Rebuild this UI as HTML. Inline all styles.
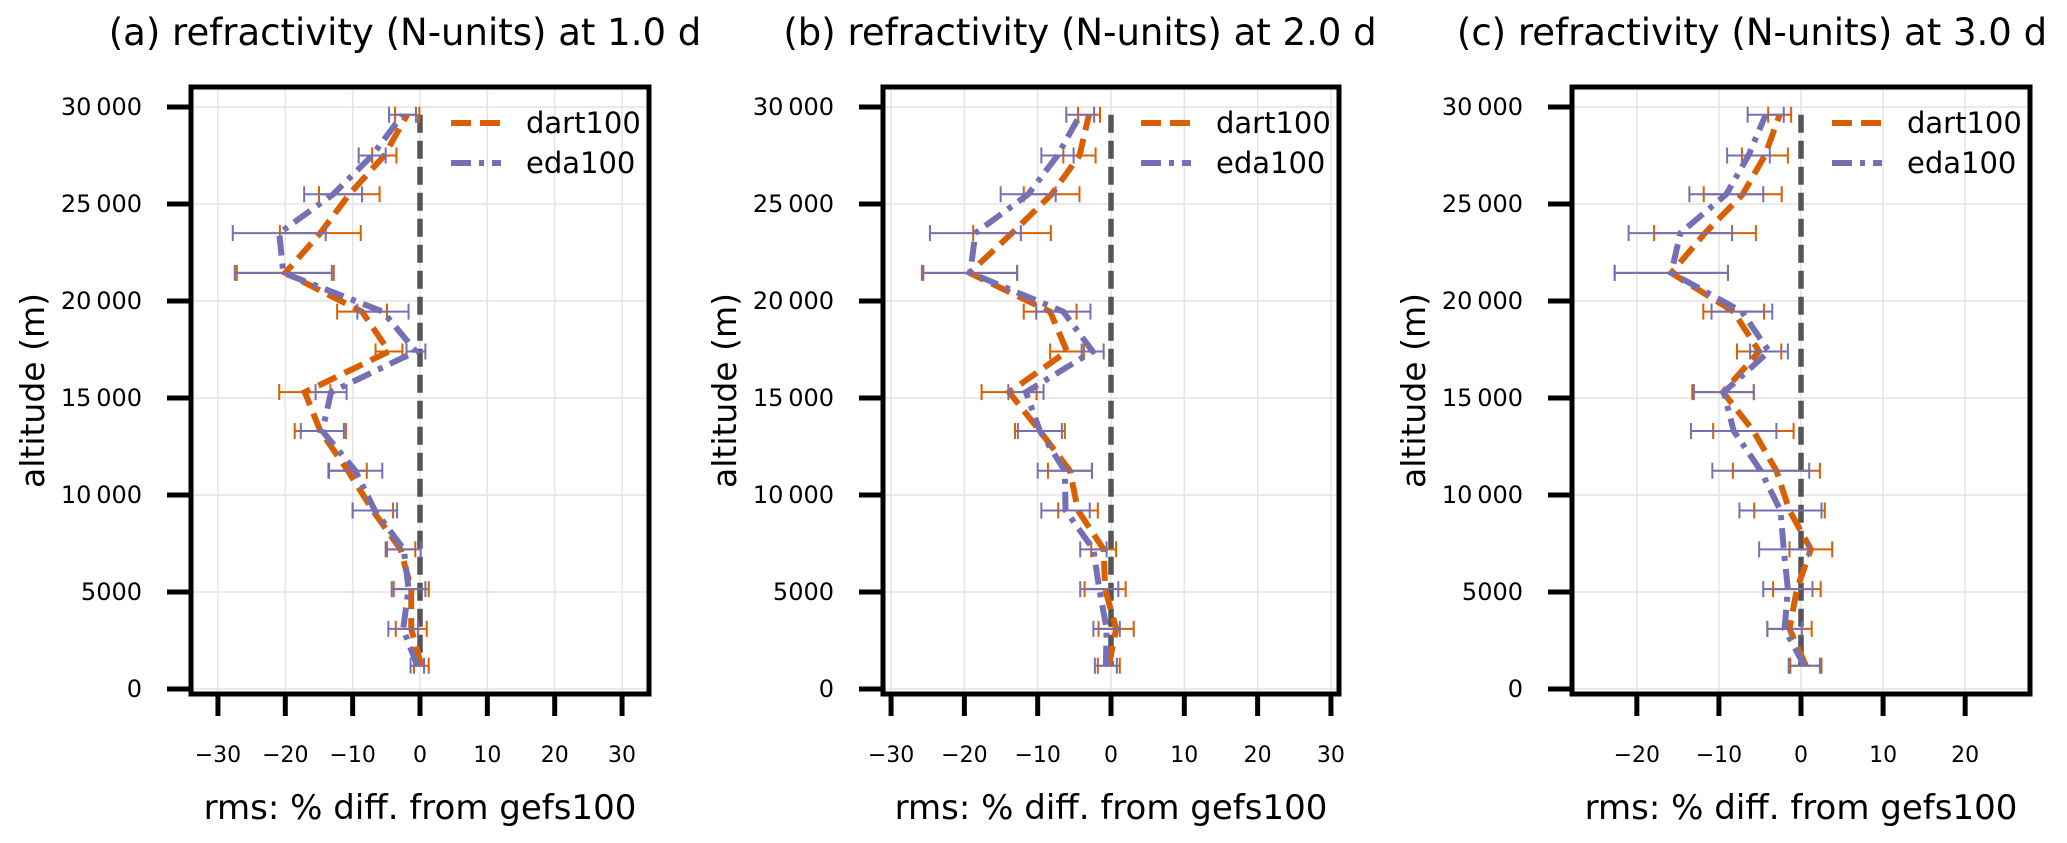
<!DOCTYPE html>
<html><head><meta charset="utf-8"><style>
html,body{margin:0;padding:0;background:#fff;}
svg{display:block;font-family:"DejaVu Sans","Liberation Sans",sans-serif;}
</style></head><body>
<svg id="fig" width="2067" height="843" viewBox="0 0 2067 843" xmlns="http://www.w3.org/2000/svg"></svg>
<script>
const levels = [1200,3100,5150,7200,9200,11250,13300,15300,17400,19450,21450,23500,25500,27500,29600];
const panelTitles = ["(a) refractivity (N-units) at 1.0 d","(b) refractivity (N-units) at 2.0 d","(c) refractivity (N-units) at 3.0 d"];
const seriesNames = ["dart100","eda100"];
const dartA = [0.2,-1.3,-1.3,-2.9,-7.0,-10.7,-14.8,-17.1,-4.6,-8.6,-20.0,-14.8,-10.5,-5.3,-1.9];
const dartAErr = [1.1,2.3,2.6,2.2,3.0,2.8,3.8,3.8,2.0,3.7,7.2,6.0,4.5,1.8,1.8];
const edaA = [-0.4,-2.5,-1.7,-2.4,-6.7,-9.6,-14.5,-13.2,-0.6,-5.5,-20.3,-20.9,-12.9,-7.1,-2.6];
const edaAErr = [1.0,2.2,2.5,2.5,3.3,4.0,3.2,2.3,1.4,3.8,7.2,6.9,4.3,2.0,2.0];
const dartB = [-0.3,0.7,-0.8,-1.0,-4.5,-5.6,-9.7,-13.9,-6.0,-8.3,-19.3,-13.5,-8.1,-4.3,-3.0];
const dartBErr = [1.5,2.4,2.8,1.7,2.7,3.0,3.4,3.75,2.3,3.6,6.5,5.3,3.8,2.2,1.5];
const edaB = [-0.7,-0.6,-1.6,-2.4,-6.2,-6.3,-9.7,-11.6,-2.5,-6.5,-19.2,-18.5,-11.3,-7.3,-4.2];
const edaBErr = [1.5,1.8,2.6,1.8,3.3,3.7,3.0,2.4,1.5,3.7,6.4,6.2,3.75,2.2,1.9];
const dartC = [0.6,-1.4,-0.5,1.2,-1.4,-3.0,-5.8,-9.5,-5.1,-8.2,-15.8,-11.7,-7.1,-4.4,-2.6];
const dartCErr = [1.9,2.7,2.9,2.6,4.3,5.3,4.9,3.75,2.7,3.7,6.9,6.2,4.75,2.8,1.4];
const edaC = [0.4,-2.0,-1.6,-2.1,-2.5,-4.9,-8.2,-9.4,-3.9,-7.2,-15.8,-14.7,-9.1,-6.4,-4.3];
const edaCErr = [1.9,2.1,3.0,3.0,5.0,5.9,5.2,3.65,2.3,3.7,6.9,6.3,4.5,2.6,2.2];
const xTicksAB = [-30,-20,-10,0,10,20,30];
const xTicksC = [-20,-10,0,10,20];
const yTicks = [0,5000,10000,15000,20000,25000,30000];
const yTickLabels = ["0","5000","10\u2009000","15\u2009000","20\u2009000","25\u2009000","30\u2009000"];

const NS="http://www.w3.org/2000/svg";
const svg=document.getElementById('fig');
function mk(tag,attrs,parent){const e=document.createElementNS(NS,tag);for(const k in attrs)e.setAttribute(k,attrs[k]);(parent||svg).appendChild(e);return e;}
const COL=["#d95f02","#7570b3"];
const DASH=["20,9","20,8,5,8"];
const panels=[
 {left:191,right:649,xmin:-34,xmax:34,ticks:xTicksAB,titleX:405,d:dartA,de:dartAErr,e:edaA,ee:edaAErr},
 {left:883,right:1339,xmin:-31.1,xmax:31.1,ticks:xTicksAB,titleX:1080,d:dartB,de:dartBErr,e:edaB,ee:edaBErr},
 {left:1572,right:2030,xmin:-27.9,xmax:27.9,ticks:xTicksC,titleX:1752,d:dartC,de:dartCErr,e:edaC,ee:edaCErr}
];
const TOP=87,BOT=694;
function yS(v){return 689-(v/30000)*582;}
function fmt(t){return t<0?"\u2212"+(-t):String(t);}
panels.forEach((p,pi)=>{
 const g=mk('g',{});
 
 
 const xS=v=>p.left+(v-p.xmin)/(p.xmax-p.xmin)*(p.right-p.left);
 const cx=(p.left+p.right)/2;
 p.ticks.forEach(t=>{const l=mk('line',{x1:xS(t),x2:xS(t),y1:TOP,y2:BOT,stroke:"#e4e4e4","stroke-width":1.5},g);});
 yTicks.forEach(t=>{const l=mk('line',{x1:p.left,x2:p.right,y1:yS(t),y2:yS(t),stroke:"#e4e4e4","stroke-width":1.5},g);});
 const z=mk('line',{x1:xS(0),x2:xS(0),y1:yS(levels[levels.length-1]),y2:yS(levels[0]),stroke:"#555","stroke-width":5.5,"stroke-dasharray":"18,8"},g);
 
 [[p.d,p.de],[p.e,p.ee]].forEach((s,si)=>{
  const vals=s[0],errs=s[1];
  levels.forEach((lv,i)=>{
   const y=yS(lv),x1=xS(vals[i]-errs[i]),x2=xS(vals[i]+errs[i]);
   const eb=mk('path',{d:`M${x1},${y}H${x2}M${x1},${y-8}V${y+8}M${x2},${y-8}V${y+8}`,stroke:COL[si],"stroke-width":2,fill:"none"},g);
   
   
  });
  const pts=levels.map((lv,i)=>xS(vals[i])+","+yS(lv)).join(" ");
  const pl=mk('polyline',{points:pts,fill:"none",stroke:COL[si],"stroke-width":6,"stroke-dasharray":DASH[si]},g);
  
  
 });
 const sp=mk('rect',{x:p.left,y:TOP,width:p.right-p.left,height:BOT-TOP,fill:"none",stroke:"#000","stroke-width":5},g);
 
 p.ticks.forEach(t=>{
  const l=mk('line',{x1:xS(t),x2:xS(t),y1:BOT,y2:BOT+22,stroke:"#000","stroke-width":5},g);
  
  const tx=mk('text',{x:xS(t),y:762,"text-anchor":"middle","font-size":22},g);tx.textContent=fmt(t);
  
 });
 yTicks.forEach((t,i)=>{
  const l=mk('line',{x1:p.left-24,x2:p.left,y1:yS(t),y2:yS(t),stroke:"#000","stroke-width":5},g);
  
  const tx=mk('text',{x:p.left-49,y:yS(t)+8,"text-anchor":"end","font-size":24},g);tx.textContent=yTickLabels[i];
  
 });
 const tt=mk('text',{x:p.titleX,y:45,"text-anchor":"middle","font-size":37},g);tt.textContent=panelTitles[pi];
 
 const xl=mk('text',{x:cx,y:819,"text-anchor":"middle","font-size":34},g);xl.textContent="rms: % diff. from gefs100";
 
 const yl=mk('text',{x:0,y:0,"text-anchor":"middle","font-size":33,transform:`translate(${p.left-147},${(TOP+BOT)/2}) rotate(-90)`},g);yl.textContent="altitude (m)";
 
 seriesNames.forEach((n,si)=>{
  const ly=123+si*40;
  const ll=mk('line',{x1:p.right-198,x2:p.right-148,y1:ly,y2:ly,stroke:COL[si],"stroke-width":6,"stroke-dasharray":DASH[si]},g);
  
  const lt=mk('text',{x:p.right-123,y:ly+10,"font-size":29},g);lt.textContent=n;
  
 });
});
</script>
</body></html>
